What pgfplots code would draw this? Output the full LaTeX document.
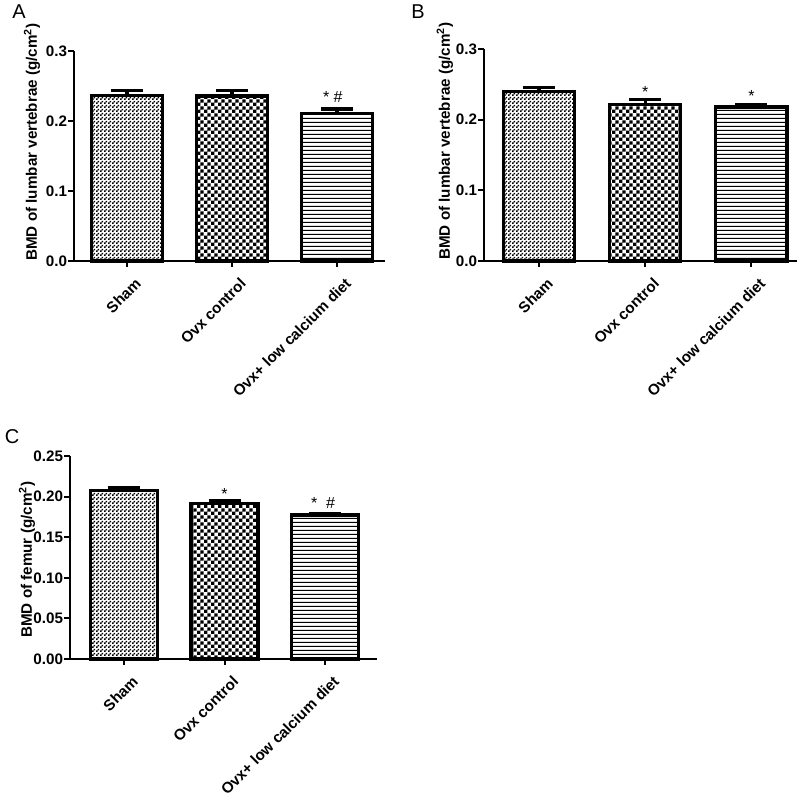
\documentclass[border=0pt]{standalone}
\usepackage{pgfplots}
\pgfplotsset{compat=1.18}
\usepackage{fontspec}
\setmainfont{Liberation Sans}
\usetikzlibrary{patterns}

\pgfdeclarepatternformonly{finecheck}{\pgfpointorigin}{\pgfqpoint{2pt}{2pt}}{\pgfqpoint{2pt}{2pt}}{%
  \pgfpathrectangle{\pgfpointorigin}{\pgfqpoint{1pt}{1pt}}%
  \pgfpathrectangle{\pgfqpoint{1pt}{1pt}}{\pgfqpoint{1pt}{1pt}}%
  \pgfusepath{fill}}
\pgfdeclarepatternformonly{coarsecheck}{\pgfpointorigin}{\pgfqpoint{3.4pt}{3.4pt}}{\pgfqpoint{3.4pt}{3.4pt}}{%
  \pgfpathrectangle{\pgfpointorigin}{\pgfqpoint{1.7pt}{1.7pt}}%
  \pgfpathrectangle{\pgfqpoint{1.7pt}{1.7pt}}{\pgfqpoint{1.7pt}{1.7pt}}%
  \pgfusepath{fill}}
\pgfdeclarepatternformonly{hlines}{\pgfpointorigin}{\pgfqpoint{10pt}{2pt}}{\pgfqpoint{10pt}{2pt}}{%
  \pgfpathrectangle{\pgfqpoint{-1pt}{0.75pt}}{\pgfqpoint{12pt}{0.5pt}}%
  \pgfusepath{fill}}

\pgfplotsset{
  panel/.style={
    scale only axis,
    anchor=south west,
    axis lines=left,
    axis line style={-, line width=1pt, black},
    enlargelimits=false,
    ymin=0,
    xtick={0,1,2},
    xticklabels={Sham, Ovx control, Ovx+ low calcium diet},
    tick align=outside,
    major tick length=2.8pt,
    tick style={line width=1pt, black},
    /pgf/number format/assume math mode=true,
    ticklabel style={font=\bfseries\fontsize{7.6}{9}\selectfont},
    yticklabel style={inner sep=0.5pt},
    xticklabel style={rotate=45, anchor=east, inner sep=0pt, xshift=-1pt, yshift=-9pt},
    ylabel style={font=\bfseries\fontsize{7.6}{9}\selectfont, anchor=center},
    clip=false,
  },
  barA/.style={ybar, bar shift=0pt, draw=black, line width=1.6pt,
    error bars/y dir=plus, error bars/y explicit,
    error bars/error bar style={line width=1.6pt, black, solid},
    error bars/error mark options={rotate=90, mark size=8pt, line width=1.6pt, black}},
}

\begin{document}
\begin{tikzpicture}
\path[use as bounding box] (0,0) rectangle (400pt,402pt);

% Panel letters
\node[font=\fontsize{10}{12}\selectfont] at (9.5pt,396pt) {A};
\node[font=\fontsize{10}{12}\selectfont] at (209pt,396pt) {B};
\node[font=\fontsize{10}{12}\selectfont] at (6pt,183.5pt) {C};

% Panel A
\begin{axis}[panel,
  at={(37pt,271.5pt)}, width=155.5pt, height=105pt,
  xmin=-0.505, xmax=2.457, ymax=0.3,
  ytick={0,0.1,0.2,0.3},
  yticklabel style={/pgf/number format/.cd, fixed, fixed zerofill, precision=1},
  ylabel={BMD of lumbar vertebrae (g/cm\textsuperscript{2})},
  ylabel style={at={(axis description cs:-0.135,0.567)}},
]
\addplot[barA, pattern=finecheck, bar width=0.68] coordinates {(0,0.237) +- (0,0.006)};
\addplot[barA, pattern=coarsecheck, bar width=0.68] coordinates {(1,0.2357) +- (0,0.0073)};
\addplot[barA, pattern=hlines, bar width=0.68] coordinates {(2,0.2105) +- (0,0.0065)};
\node[font=\fontsize{8}{9}\selectfont] at (axis cs:1.96,0.234) {* \#};
\end{axis}

% Panel B
\begin{axis}[panel,
  at={(242pt,271.5pt)}, width=156.5pt, height=106pt,
  xmin=-0.519, xmax=2.43, ymax=0.3,
  ytick={0,0.1,0.2,0.3},
  yticklabel style={/pgf/number format/.cd, fixed, fixed zerofill, precision=1},
  ylabel={BMD of lumbar vertebrae (g/cm\textsuperscript{2})},
  ylabel style={at={(axis description cs:-0.125,0.566)}},
]
\addplot[barA, pattern=finecheck, bar width=0.67] coordinates {(0,0.2396) +- (0,0.0054)};
\addplot[barA, pattern=coarsecheck, bar width=0.67] coordinates {(1,0.222) +- (0,0.006)};
\addplot[barA, pattern=hlines, bar width=0.67] coordinates {(2,0.218) +- (0,0.004)};
\node[font=\fontsize{8}{9}\selectfont] at (axis cs:1,0.239) {*};
\node[font=\fontsize{8}{9}\selectfont] at (axis cs:2,0.234) {*};
\end{axis}

% Panel C
\begin{axis}[panel,
  at={(35pt,72.5pt)}, width=153.5pt, height=101.5pt,
  xmin=-0.537, xmax=2.517, ymax=0.25,
  ytick={0,0.05,0.1,0.15,0.2,0.25},
  yticklabel style={/pgf/number format/.cd, fixed, fixed zerofill, precision=2},
  ylabel={BMD of femur (g/cm\textsuperscript{2})},
  ylabel style={at={(axis description cs:-0.14,0.49)}},
]
\addplot[barA, pattern=finecheck, bar width=0.667] coordinates {(0,0.2073) +- (0,0.0037)};
\addplot[barA, pattern=coarsecheck, bar width=0.667] coordinates {(1,0.1918) +- (0,0.003)};
\addplot[barA, pattern=hlines, bar width=0.667] coordinates {(2,0.1773) +- (0,0.0022)};
\node[font=\fontsize{8}{9}\selectfont] at (axis cs:1,0.203) {*};
\node[font=\fontsize{8}{9}\selectfont] at (axis cs:1.98,0.192) {*\ \ \#};
\end{axis}
\end{tikzpicture}
\end{document}
